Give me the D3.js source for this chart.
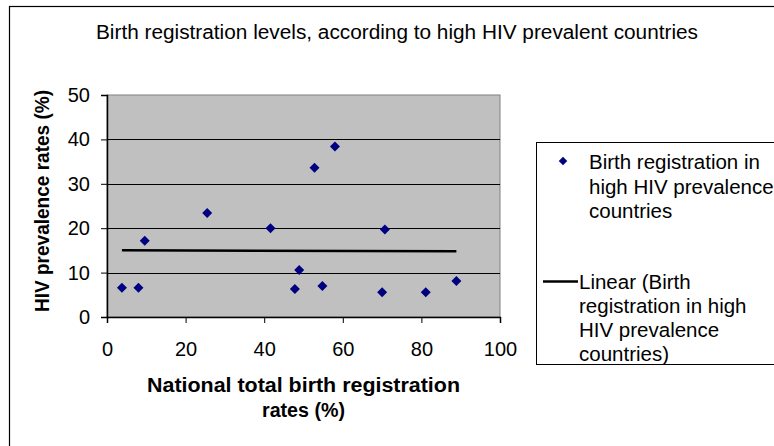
<!DOCTYPE html>
<html>
<head>
<meta charset="utf-8">
<script src="https://cdn.jsdelivr.net/npm/d3@7"></script>
<style>
  body { margin: 0; background: #fff; }
  svg { display: block; font-family: "Liberation Sans", Arial, sans-serif; }
</style>
</head>
<body>
<div id="chart"></div>
<script>
var w = 774, h = 446;

// Data
var registrationRates = [3.8, 8.0, 9.6, 25.5, 41.6, 47.8, 48.9, 52.8, 54.8, 58.0, 70.7, 70.0, 81.1, 88.9];
var hivRates = [6.6, 6.6, 17.2, 23.4, 20.0, 6.3, 10.6, 33.6, 7.0, 38.4, 19.7, 5.6, 5.6, 8.1];
var xTicks = [0, 20, 40, 60, 80, 100];
var yTicks = [0, 10, 20, 30, 40, 50];
var legendSeries = ["Birth registration in", "high HIV prevalence", "countries"];
var legendTrend = ["Linear (Birth", "registration in high", "HIV prevalence", "countries)"];

var points = registrationRates.map(function(d, i) {
  return { x: d, y: hivRates[i] };
});

// Plot area
var plot = { left: 107, right: 500, top: 95, bottom: 317 };

var x = d3.scaleLinear().domain([0, 100]).range([plot.left, plot.right]);
var y = d3.scaleLinear().domain([0, 50]).range([plot.bottom, plot.top]);

var svg = d3.select("#chart")
  .append("svg")
  .attr("width", w)
  .attr("height", h);

// Chart frame
svg.append("rect")
  .attr("x", 9.5)
  .attr("y", 6.5)
  .attr("width", 800)
  .attr("height", 500)
  .attr("fill", "#fff")
  .attr("stroke", "#000")
  .attr("stroke-width", 1.2);

// Title
svg.append("text")
  .attr("x", 397)
  .attr("y", 39)
  .attr("text-anchor", "middle")
  .attr("font-size", "19.5px")
  .attr("textLength", 602)
  .attr("lengthAdjust", "spacingAndGlyphs")
  .text("Birth registration levels, according to high HIV prevalent countries");

// Plot background
svg.append("rect")
  .attr("x", plot.left)
  .attr("y", plot.top)
  .attr("width", plot.right - plot.left)
  .attr("height", plot.bottom - plot.top)
  .attr("fill", "#c0c0c0")
  .attr("stroke", "#808080")
  .attr("stroke-width", 1);

// Gridlines
svg.append("g")
  .selectAll("line")
  .data(yTicks.filter(function(d) { return d > 0 && d < 50; }))
  .enter()
  .append("line")
  .attr("x1", plot.left)
  .attr("x2", plot.right)
  .attr("y1", function(d) { return Math.round(y(d)) + 0.5; })
  .attr("y2", function(d) { return Math.round(y(d)) + 0.5; })
  .attr("stroke", "#000")
  .attr("stroke-width", 1);

// Axes
var xAxis = svg.append("g")
  .attr("transform", "translate(0," + plot.bottom + ")")
  .call(d3.axisBottom(x).tickValues(xTicks).tickSizeOuter(0).tickSize(6).tickPadding(19));

var yAxis = svg.append("g")
  .attr("transform", "translate(" + plot.left + ",0)")
  .call(d3.axisLeft(y).tickValues(yTicks).tickSizeOuter(0).tickSize(6).tickPadding(11));

[xAxis, yAxis].forEach(function(g) {
  g.select(".domain").attr("stroke", "#000").attr("stroke-width", 1.5);
  g.selectAll(".tick line").attr("stroke", "#000");
  g.selectAll(".tick text")
    .attr("fill", "#000")
    .attr("font-size", "20px")
    .attr("font-family", "Liberation Sans, Arial, sans-serif");
});

// Axis titles
var xTitle = ["National total birth registration", "rates (%)"];
var xTitleWidths = [313, 83];

svg.append("g")
  .selectAll("text")
  .data(xTitle)
  .enter()
  .append("text")
  .attr("x", (plot.left + plot.right) / 2)
  .attr("y", function(d, i) { return 392 + i * 25; })
  .attr("text-anchor", "middle")
  .attr("font-size", "19.5px")
  .attr("font-weight", "bold")
  .attr("textLength", function(d, i) { return xTitleWidths[i]; })
  .attr("lengthAdjust", "spacingAndGlyphs")
  .text(function(d) { return d; });

svg.append("text")
  .attr("transform", "translate(49,201) rotate(-90)")
  .attr("text-anchor", "middle")
  .attr("font-size", "19.5px")
  .attr("font-weight", "bold")
  .attr("textLength", 222)
  .attr("lengthAdjust", "spacingAndGlyphs")
  .text("HIV prevalence rates (%)");

// Linear trend line (least squares over the points)
var mx = d3.mean(points, function(d) { return d.x; });
var my = d3.mean(points, function(d) { return d.y; });
var slope = d3.sum(points, function(d) { return (d.x - mx) * (d.y - my); }) /
            d3.sum(points, function(d) { return (d.x - mx) * (d.x - mx); });
var intercept = my - slope * mx;
var xExtent = d3.extent(points, function(d) { return d.x; });

svg.append("line")
  .attr("x1", x(xExtent[0]))
  .attr("x2", x(xExtent[1]))
  .attr("y1", y(intercept + slope * xExtent[0]))
  .attr("y2", y(intercept + slope * xExtent[1]))
  .attr("stroke", "#000")
  .attr("stroke-width", 2.5);

// Points
var diamond = d3.symbol().type(d3.symbolSquare).size(50);

svg.append("g")
  .selectAll("path")
  .data(points)
  .enter()
  .append("path")
  .attr("d", diamond)
  .attr("transform", function(d) { return "translate(" + x(d.x) + "," + y(d.y) + ") rotate(45)"; })
  .attr("fill", "#000080");

// Legend
var legend = svg.append("g");

legend.append("rect")
  .attr("x", 536.5)
  .attr("y", 142.5)
  .attr("width", 300)
  .attr("height", 222)
  .attr("fill", "#fff")
  .attr("stroke", "#000")
  .attr("stroke-width", 1);

legend.append("path")
  .attr("d", d3.symbol().type(d3.symbolSquare).size(36))
  .attr("transform", "translate(563,161) rotate(45)")
  .attr("fill", "#000080");

legend.append("text")
  .attr("font-size", "20.5px")
  .selectAll("tspan")
  .data(legendSeries)
  .enter()
  .append("tspan")
  .attr("x", 589)
  .attr("y", function(d, i) { return 169 + i * 24.5; })
  .text(function(d) { return d; });

legend.append("line")
  .attr("x1", 543)
  .attr("x2", 578)
  .attr("y1", 281.5)
  .attr("y2", 281.5)
  .attr("stroke", "#000")
  .attr("stroke-width", 2.5);

legend.append("text")
  .attr("font-size", "20.5px")
  .selectAll("tspan")
  .data(legendTrend)
  .enter()
  .append("tspan")
  .attr("x", 579)
  .attr("y", function(d, i) { return 289 + i * 24; })
  .text(function(d) { return d; });
</script>
</body>
</html>
